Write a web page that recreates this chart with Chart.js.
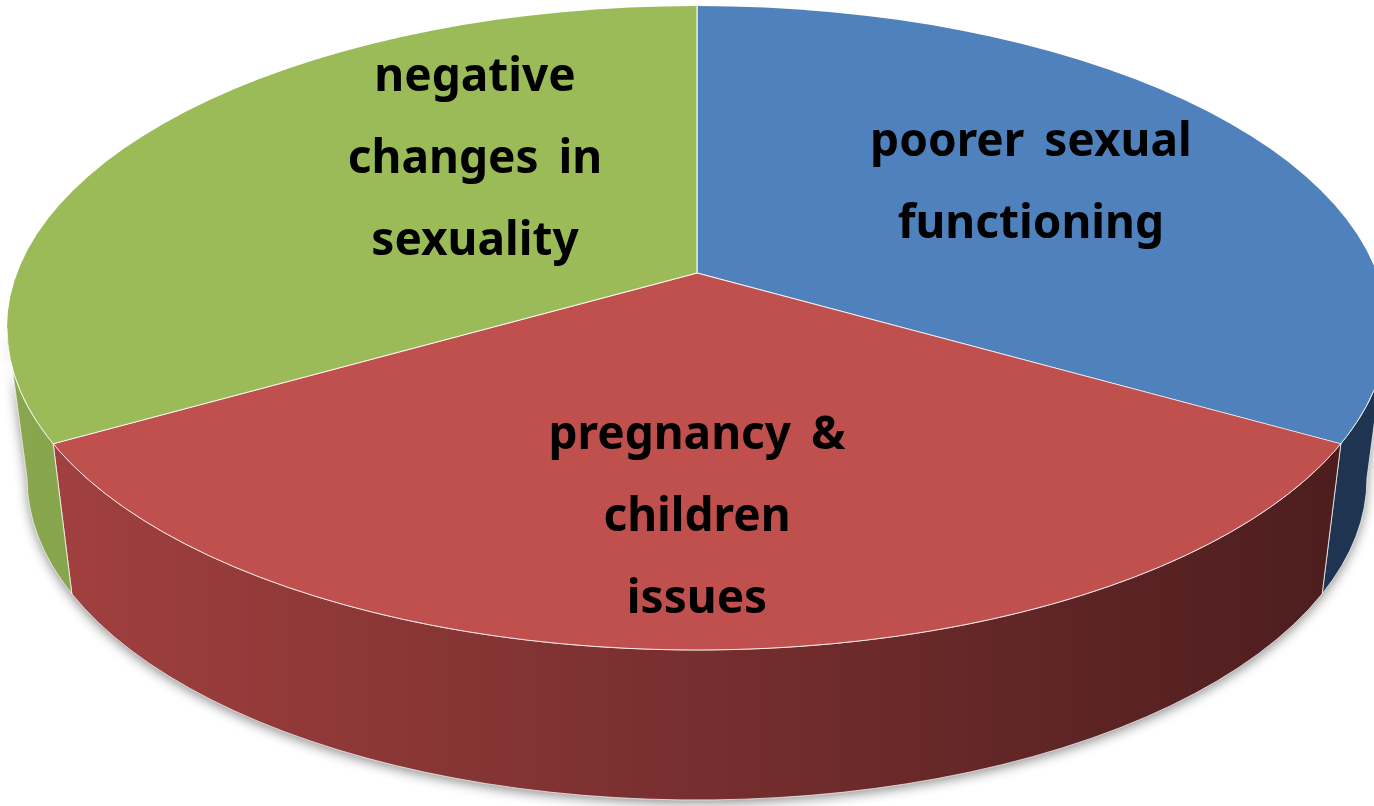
<!DOCTYPE html>
<html>
<head>
<meta charset="utf-8">
<script src="https://cdn.jsdelivr.net/npm/chart.js@4.4.1/dist/chart.umd.min.js"></script>
<style>
  body { margin: 0; background: #fff; }
  #wrap { width: 1374px; height: 806px; position: relative; }
</style>
</head>
<body>
<div id="wrap"><canvas id="pie"></canvas></div>
<script>
// data (shares, clockwise from 12 o'clock)
const categories = [
    ['poorer sexual', 'functioning'],
    ['pregnancy &', 'children', 'issues'],
    ['negative', 'changes in', 'sexuality']
]
const shares = [31, 38, 31]

const topColors = ['#4f81bd', '#c0504d', '#9bbb59']
// side wall gradient, left -> right
const sideColors = [['#2a4671', '#1e3450'], ['#a44140', '#4a1c1d'], ['#88a64d', '#7d9944']]

// look of the tilted pie
const RX = 690, RY = 322, DEPTH = 150, RX_BOTTOM = 670
const APEX_UP = 55          // perspective: slices meet above the rim's centre
const KX = 900, KY = 603    // spread of the slices before clipping to the rim
// where each label sits: fraction of rim radius along mid angle from the apex, plus nudge
const labelFrac = [0.585, 0.76, 0.389]
const labelShift = [17, 0, -43]

function wallPath(ctx, cx, cy, a0, a1) {
    ctx.beginPath()
    ctx.ellipse(cx, cy, RX, RY, 0, a0, a1)
    ctx.lineTo(cx + RX_BOTTOM * Math.cos(a1), cy + DEPTH + RY * Math.sin(a1))
    ctx.ellipse(cx, cy + DEPTH, RX_BOTTOM, RY, 0, a1, a0, true)
    ctx.closePath()
}

// slice angle -> angle on the rim ellipse where that slice edge meets it
function rimAngle(theta) {
    const dx = KX * Math.cos(theta), dy = KY * Math.sin(theta), s = APEX_UP
    const a = dx * dx / (RX * RX) + dy * dy / (RY * RY)
    const b = -2 * dy * s / (RY * RY)
    const c = s * s / (RY * RY) - 1
    const t = (-b + Math.sqrt(b * b - 4 * a * c)) / (2 * a)
    let phi = Math.atan2((t * dy - s) / RY, t * dx / RX)
    while (phi < theta - Math.PI) phi += 2 * Math.PI
    while (phi > theta + Math.PI) phi -= 2 * Math.PI
    return phi
}

const tilt = {
    id: 'tilt',
    beforeDatasetsDraw(chart) {
        const ctx = chart.ctx
        const arcs = chart.getDatasetMeta(0).data
        const cx = chart.chartArea.left + chart.chartArea.width / 2
        const cy = chart.chartArea.top + RY
        // soft shadow under the whole wall
        ctx.save()
        ctx.shadowColor = 'rgba(0,0,0,0.45)'
        ctx.shadowBlur = 12
        ctx.shadowOffsetY = 3
        ctx.fillStyle = '#555'
        wallPath(ctx, cx, cy, 0, Math.PI)
        ctx.fill()
        ctx.restore()
        // side walls of each slice, only the front half shows
        arcs.forEach((arc, i) => {
            const a0 = Math.max(rimAngle(arc.startAngle), 0)
            const a1 = Math.min(rimAngle(arc.endAngle), Math.PI)
            if (a0 >= a1) return
            const g = ctx.createLinearGradient(cx - RX, 0, cx + RX, 0)
            g.addColorStop(0, sideColors[i][0])
            g.addColorStop(1, sideColors[i][1])
            ctx.save()
            ctx.fillStyle = g
            wallPath(ctx, cx, cy, a0, a1)
            ctx.fill()
            ctx.strokeStyle = 'rgba(255,255,255,0.75)'
            ctx.lineWidth = 1
            ctx.stroke()
            ctx.restore()
        })
        // top face: spread the pie from the apex and clip it to the rim
        const arc = arcs[0], r = arc.outerRadius
        ctx.save()
        ctx.beginPath()
        ctx.ellipse(cx, cy, RX, RY, 0, 0, 2 * Math.PI)
        ctx.clip()
        ctx.translate(cx, cy - APEX_UP)
        ctx.scale(KX / r, KY / r)
        ctx.translate(-arc.x, -arc.y)
    },
    afterDatasetsDraw(chart) {
        const ctx = chart.ctx
        ctx.restore()
        const cx = chart.chartArea.left + chart.chartArea.width / 2
        const cy = chart.chartArea.top + RY
        ctx.save()
        ctx.strokeStyle = 'rgba(255,255,255,0.8)'
        ctx.lineWidth = 1
        ctx.beginPath()
        ctx.ellipse(cx, cy, RX, RY, 0, 0, Math.PI)
        ctx.stroke()
        ctx.restore()
    },
    afterDraw(chart) {
        const ctx = chart.ctx
        const arcs = chart.getDatasetMeta(0).data
        const cx = chart.chartArea.left + chart.chartArea.width / 2
        const apexY = chart.chartArea.top + RY - APEX_UP
        ctx.save()
        ctx.fillStyle = '#000'
        ctx.font = 'bold 46px "Noto Sans"'
        ctx.wordSpacing = '8px'
        ctx.textAlign = 'center'
        ctx.textBaseline = 'middle'
        arcs.forEach((arc, i) => {
            const mid = (arc.startAngle + arc.endAngle) / 2
            const x = cx + RX * labelFrac[i] * Math.cos(mid)
            const y = apexY + RY * labelFrac[i] * Math.sin(mid) + labelShift[i]
            const lines = chart.data.labels[i]
            const lh = 82
            lines.forEach((t, j) => {
                ctx.fillText(t, x, y + (j - (lines.length - 1) / 2) * lh)
            })
        })
        ctx.restore()
    }
}

const ctx = document.getElementById('pie')
const config = {
    type: 'pie',
    data: {
        labels: categories,
        datasets: [{
            data: shares,
            backgroundColor: topColors,
            borderColor: 'rgba(255,255,255,0.8)',
            borderWidth: 0.45
        }]
    },
    options: {
        responsive: true,
        maintainAspectRatio: false,
        animation: false,
        layout: { padding: { left: 20, right: 0, top: 6, bottom: 156 } },
        plugins: {
            legend: { display: false },
            tooltip: { enabled: false }
        }
    },
    plugins: [tilt]
}
let pie = new Chart(ctx, config)
</script>
</body>
</html>
